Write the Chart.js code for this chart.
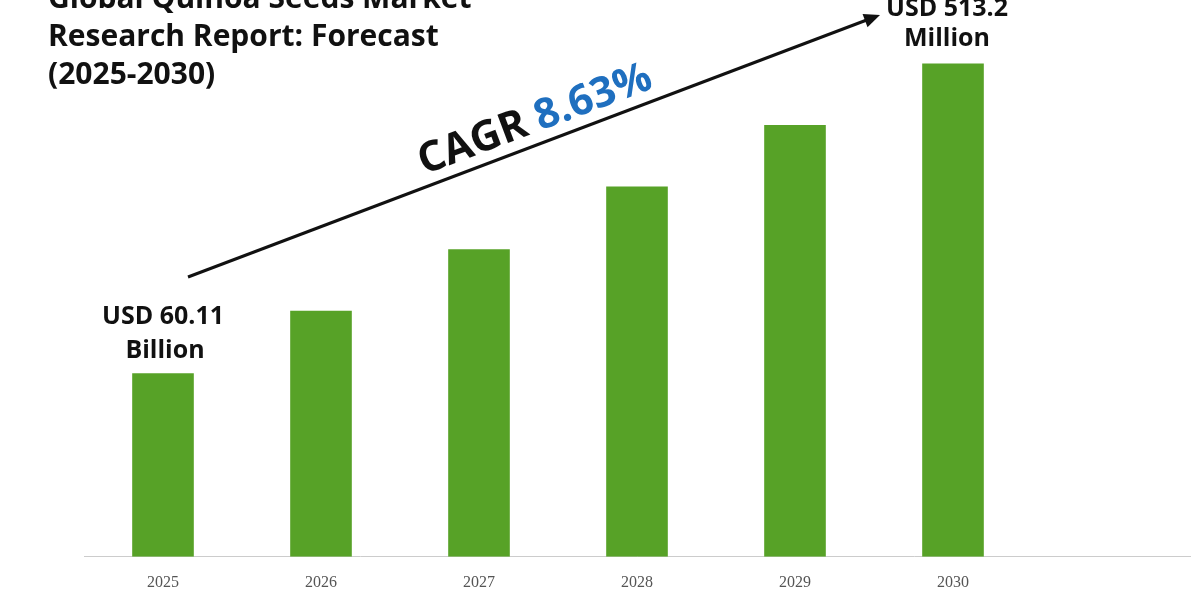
<!DOCTYPE html>
<html><head><meta charset="utf-8">
<script src="https://cdn.jsdelivr.net/npm/chart.js@4"></script>
<style>html,body{margin:0;padding:0;background:#fff}#w{width:1200px;height:600px}</style>
</head><body><div id="w"><canvas id="c"></canvas></div>
<script>
const categories = ["2025","2026","2027","2028","2029","2030",""];
const values = [182, 244, 305, 367, 428, 489, null];
const titleLines = ["Global Quinoa Seeds Market","Research Report: Forecast","(2025-2030)"];
const startLabel = ["USD 60.11","Billion"];
const endLabel = ["USD 513.2","Million"];
const cagrText = ["CAGR ","8.63%"];

const overlay = {
  id:'overlay',
  afterDraw(chart){
    const ctx = chart.ctx;
    const x = chart.scales.x, y = chart.scales.y;
    ctx.save();
    ctx.fillStyle='#111';
    ctx.font='bold 30px "Open Sans", "DejaVu Sans", sans-serif';
    ctx.textAlign='left'; ctx.textBaseline='middle';
    titleLines.forEach((t,i)=>ctx.fillText(t,48,-1+i*38));
    ctx.font='bold 25px "Open Sans", "DejaVu Sans", sans-serif';
    ctx.textAlign='center';
    const x0 = x.getPixelForValue(0), y0 = y.getPixelForValue(values[0]);
    ctx.fillText(startLabel[0], x0, y0-56);
    ctx.fillText(startLabel[1], x0+2, y0-22);
    const x5 = x.getPixelForValue(5), y5 = y.getPixelForValue(values[5]);
    ctx.fillText(endLabel[0], x5-6, y5-55);
    ctx.fillText(endLabel[1], x5-6, y5-25);
    const ax=188, ay=277, bx=880, by=15;
    ctx.strokeStyle='#111'; ctx.lineWidth=3;
    ctx.beginPath(); ctx.moveTo(ax,ay); ctx.lineTo(bx-8,by+3); ctx.stroke();
    const ang=Math.atan2(by-ay,bx-ax);
    ctx.beginPath(); ctx.moveTo(bx,by);
    ctx.lineTo(bx-16*Math.cos(ang)+7*Math.sin(ang), by-16*Math.sin(ang)-7*Math.cos(ang));
    ctx.lineTo(bx-16*Math.cos(ang)-7*Math.sin(ang), by-16*Math.sin(ang)+7*Math.cos(ang));
    ctx.closePath(); ctx.fill();
    ctx.translate(535,120); ctx.rotate(ang);
    ctx.font='bold 42px "Open Sans", "DejaVu Sans", sans-serif';
    ctx.textAlign='left';
    const w1=ctx.measureText(cagrText[0]).width, w2=ctx.measureText(cagrText[1]).width;
    const sx=-(w1+w2)/2;
    ctx.fillStyle='#111'; ctx.fillText(cagrText[0],sx,0);
    ctx.fillStyle='#1f6fbf'; ctx.fillText(cagrText[1],sx+w1,0);
    ctx.restore();
  }
};

new Chart(document.getElementById('c'),{
  type:'bar',
  data:{labels:categories,datasets:[{data:values,backgroundColor:'#57a227',barPercentage:0.39,categoryPercentage:1}]},
  options:{
    responsive:true, maintainAspectRatio:false, animation:false,
    layout:{padding:{left:84,right:10,top:0,bottom:0}},
    plugins:{legend:{display:false},tooltip:{enabled:false}},
    scales:{
      x:{grid:{display:false},border:{color:'#ccc',width:1},
         ticks:{color:'#555',padding:8,font:{family:'"Liberation Serif", serif',size:16}}},
      y:{display:false,min:0,max:552}
    }
  },
  plugins:[overlay]
});
</script></body></html>
